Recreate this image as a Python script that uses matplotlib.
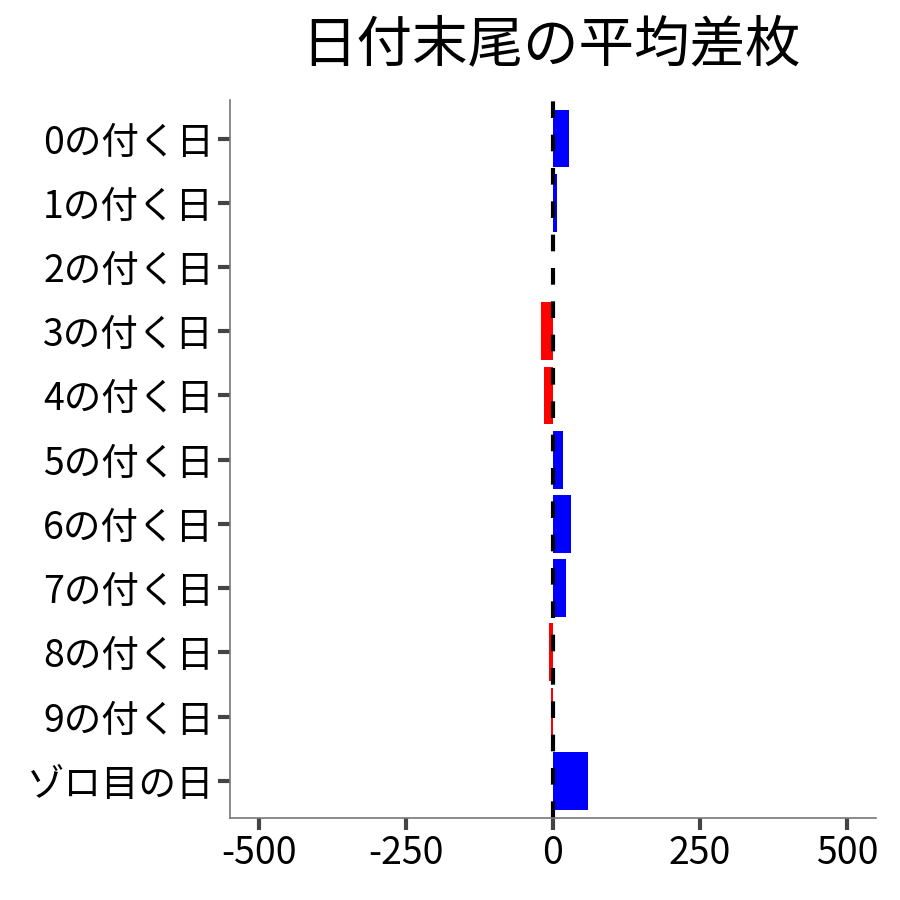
import matplotlib
matplotlib.use("Agg")
import matplotlib.pyplot as plt

plt.rcParams['font.family'] = ['Noto Sans CJK JP', 'DejaVu Sans']

# 日付末尾ごとの平均差枚
categories = ["0の付く日", "1の付く日", "2の付く日", "3の付く日", "4の付く日",
              "5の付く日", "6の付く日", "7の付く日", "8の付く日", "9の付く日", "ゾロ目の日"]
values = [28, 7, 0, -21, -16, 17, 31, 22, -7, -4, 59]
xticks = [-500, -250, 0, 250, 500]

colors = ["blue" if v > 0 else "red" for v in values]

fig = plt.figure(figsize=(9, 9), dpi=100)
ax = fig.add_axes([230 / 900, 82 / 900, 646 / 900, 718 / 900])

ypos = list(range(len(categories)))
ax.barh(ypos, values, height=0.9, color=colors)
ax.axvline(0, color="black", linestyle=(0, (4, 4)), linewidth=3)

ax.set_xlim(-549, 549)
ax.set_ylim(len(categories) - 0.42, -0.6)
ax.set_yticks(ypos)
ax.set_yticklabels(categories, fontsize=27)
ax.set_xticks(xticks)
ax.set_xticklabels([str(t) for t in xticks], fontsize=27)

for s in ["top", "right"]:
    ax.spines[s].set_visible(False)
for s in ["left", "bottom"]:
    ax.spines[s].set_color("#777777")
    ax.spines[s].set_linewidth(1.2)
ax.tick_params(axis="both", length=8.5, width=3, color="#444444", pad=3)

fig.suptitle("日付末尾の平均差枚", fontsize=40, x=0.612, y=0.981)

fig.savefig("out.png", dpi=100)
